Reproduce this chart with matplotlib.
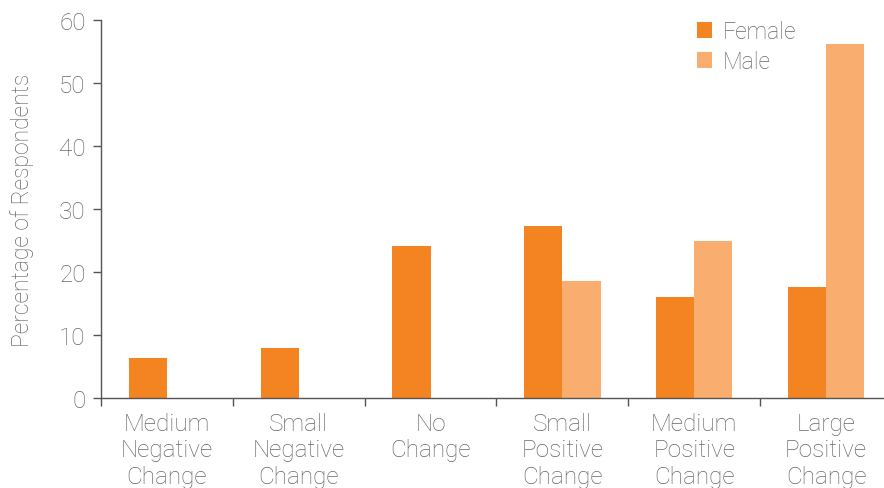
import matplotlib
matplotlib.use("Agg")
import matplotlib.pyplot as plt
import numpy as np

categories = ["Medium\nNegative\nChange", "Small\nNegative\nChange", "No\nChange",
              "Small\nPositive\nChange", "Medium\nPositive\nChange", "Large\nPositive\nChange"]
female = [6.3, 7.9, 24.1, 27.3, 16.0, 17.6]
male = [0, 0, 0, 18.6, 24.9, 56.2]
series_names = ["Female", "Male"]
yticks = [0, 10, 20, 30, 40, 50, 60]

female_color = "#F38421"
male_color = "#F9AE6F"
text_color = "#666666"
axis_color = "#555555"

plt.rcParams['font.family'] = ['Roboto', 'DejaVu Sans']
plt.rcParams['font.weight'] = 'light'
plt.rcParams['axes.labelweight'] = 'light'

fig = plt.figure(figsize=(8.84, 4.89), dpi=100)
ax = fig.add_axes([101 / 884, 1 - 399 / 489, 791 / 884, 378 / 489])

x = np.arange(len(categories))
w = 0.29
ax.bar(x - w / 2, female, w, color=female_color, label=series_names[0])
ax.bar(x + w / 2, male, w, color=male_color, label=series_names[1])

ax.set_xlim(-0.5, len(categories) - 0.5)
ax.set_ylim(0, 60)
ax.set_yticks(yticks)
ax.set_xticks(np.arange(len(categories) + 1) - 0.5)
ax.set_xticklabels([])
ax.set_xticks(x, minor=True)
ax.set_xticklabels(categories, minor=True, fontsize=17.5, color=text_color, linespacing=1.2)
ax.tick_params(axis='x', which='minor', length=0, pad=10)
ax.tick_params(axis='x', which='major', length=6, width=1, color=axis_color, direction='out')
ax.tick_params(axis='y', length=6, width=1, color=axis_color, labelsize=17.5,
               labelcolor=text_color, pad=5)

for s in ['top', 'right']:
    ax.spines[s].set_visible(False)
for s in ['left', 'bottom']:
    ax.spines[s].set_color(axis_color)
    ax.spines[s].set_linewidth(1)

ax.set_ylabel("Percentage of Respondents", fontsize=16.5, fontweight='light',
              color=text_color, labelpad=18)

leg = ax.legend(loc='upper left', bbox_to_anchor=(688 / 884, 1 - 12 / 489),
                bbox_transform=fig.transFigure, frameon=False, fontsize=16.5,
                handlelength=0.65, handleheight=0.65, handletextpad=0.45, labelspacing=0.3,
                borderaxespad=0)
for t in leg.get_texts():
    t.set_color(text_color)

fig.savefig("out.png", dpi=100)
